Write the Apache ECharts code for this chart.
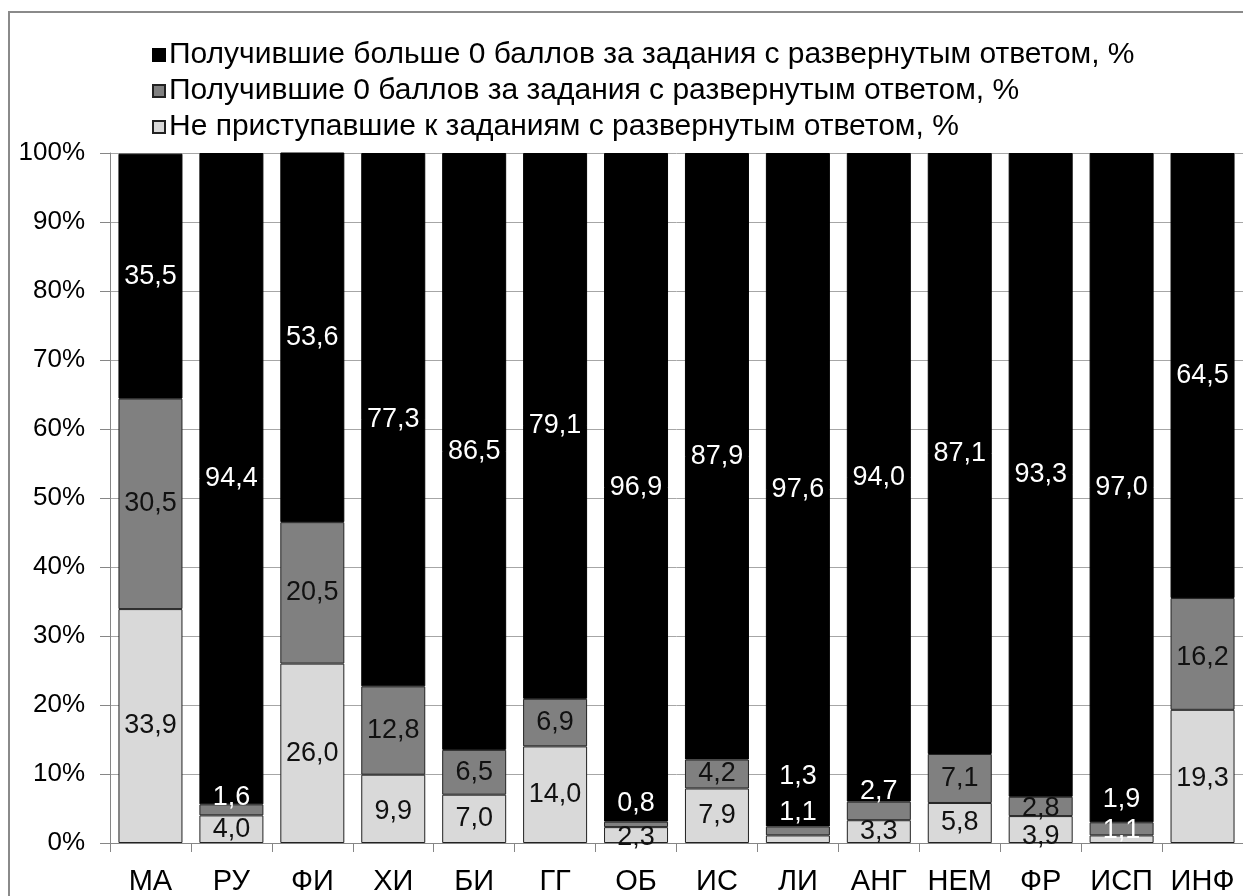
<!DOCTYPE html>
<html>
<head>
<meta charset="utf-8">
<script src="https://cdn.jsdelivr.net/npm/echarts@6/dist/echarts.min.js"></script>
<style>
html,body{margin:0;padding:0;background:#fff;}
#chart{width:1243px;height:896px;}
</style>
</head>
<body>
<div id="chart"></div>
<script>
// ---- data ----
const categories = ['МА','РУ','ФИ','ХИ','БИ','ГГ','ОБ','ИС','ЛИ','АНГ','НЕМ','ФР','ИСП','ИНФ'];
const seriesNames = [
  'Получившие больше 0 баллов за задания с развернутым ответом, %',
  'Получившие 0 баллов за задания с развернутым ответом, %',
  'Не приступавшие к заданиям с развернутым ответом, %'
];
const positiveScore = [35.5, 94.4, 53.6, 77.3, 86.5, 79.1, 96.9, 87.9, 97.6, 94.0, 87.1, 93.3, 97.0, 64.5];
const zeroScore     = [30.5, 1.6, 20.5, 12.8, 6.5, 6.9, 0.8, 4.2, 1.3, 2.7, 7.1, 2.8, 1.9, 16.2];
const notStarted    = [33.9, 4.0, 26.0, 9.9, 7.0, 14.0, 2.3, 7.9, 1.1, 3.3, 5.8, 3.9, 1.1, 19.3];
const yTicks = [0, 10, 20, 30, 40, 50, 60, 70, 80, 90, 100];

// ---- label styling (moved labels, colours) ----
const zeroLabelDy   = [0, -12, 0, 0, 0, 0, -21, 0, -54, -19, 0, 2, -29, 4];
const zeroLabelWhite= [0, 1, 0, 0, 0, 0, 1, 0, 1, 1, 0, 0, 1, 0];
const notLabelDy    = [0, 0, 0, 3, 0, 0, 2, 0, -27, 0, 0, 7, -9, 2];
const notLabelWhite = [0, 0, 0, 0, 0, 0, 0, 0, 1, 0, 0, 0, 1, 0];

const fmt = v => v.toFixed(1).replace('.', ',');
const FONT = 'Liberation Sans, Arial, sans-serif';
const LABEL_FONT = 27;

function items(vals, dys, whites) {
  return vals.map((v, i) => ({
    value: v,
    label: {
      offset: [0, dys ? dys[i] : 0],
      color: whites ? (whites[i] ? '#ffffff' : '#111111') : '#ffffff'
    }
  }));
}

const baseSeries = {
  type: 'bar',
  stack: 'total',
  barWidth: 64,
  label: {
    show: true,
    position: 'inside',
    fontFamily: FONT,
    fontSize: LABEL_FONT,
    formatter: p => fmt(p.value)
  },
  emphasis: {disabled: true}
};

const chart = echarts.init(document.getElementById('chart'), null, {renderer: 'canvas'});
chart.setOption({
  animation: false,
  backgroundColor: '#ffffff',
  textStyle: {fontFamily: FONT},
  graphic: [{
    type: 'polyline',
    shape: {points: [[9, 896], [9, 12], [1243, 12]]},
    style: {stroke: '#8a8a8a', lineWidth: 2, fill: null},
    silent: true
  }],
  legend: {
    orient: 'vertical',
    left: 147,
    top: 35,
    itemWidth: 12,
    itemHeight: 12,
    itemGap: 6,
    icon: 'rect',
    data: seriesNames,
    textStyle: {fontSize: 30, lineHeight: 30, color: '#000', padding: [0, 0, 0, -1], fontFamily: FONT},
    selectedMode: false
  },
  grid: {left: 110, right: -6, top: 153, bottom: 53, containLabel: false},
  xAxis: {
    type: 'category',
    data: categories,
    axisLine: {lineStyle: {color: '#868686', width: 1}},
    axisTick: {show: true, length: 9, lineStyle: {color: '#868686'}},
    axisLabel: {fontSize: 29, color: '#000', margin: 24, interval: 0, fontFamily: FONT},
    splitLine: {show: false}
  },
  yAxis: {
    type: 'value',
    min: yTicks[0],
    max: yTicks[yTicks.length - 1],
    interval: 10,
    axisLine: {show: true, lineStyle: {color: '#868686', width: 1}},
    axisTick: {show: true, length: 10, lineStyle: {color: '#868686'}},
    axisLabel: {fontSize: 26, color: '#000', margin: 25, formatter: '{value}%', fontFamily: FONT},
    splitLine: {show: true, lineStyle: {color: '#a6a6a6', width: 1}}
  },
  series: [
    Object.assign({}, baseSeries, {
      name: seriesNames[2],
      data: items(notStarted, notLabelDy, notLabelWhite),
      itemStyle: {color: '#d9d9d9', borderColor: '#222', borderWidth: 1}
    }),
    Object.assign({}, baseSeries, {
      name: seriesNames[1],
      data: items(zeroScore, zeroLabelDy, zeroLabelWhite),
      itemStyle: {color: '#808080', borderColor: '#222', borderWidth: 1}
    }),
    Object.assign({}, baseSeries, {
      name: seriesNames[0],
      data: items(positiveScore, null, null),
      itemStyle: {color: '#000000', borderColor: '#000', borderWidth: 1}
    })
  ]
});
</script>
</body>
</html>
